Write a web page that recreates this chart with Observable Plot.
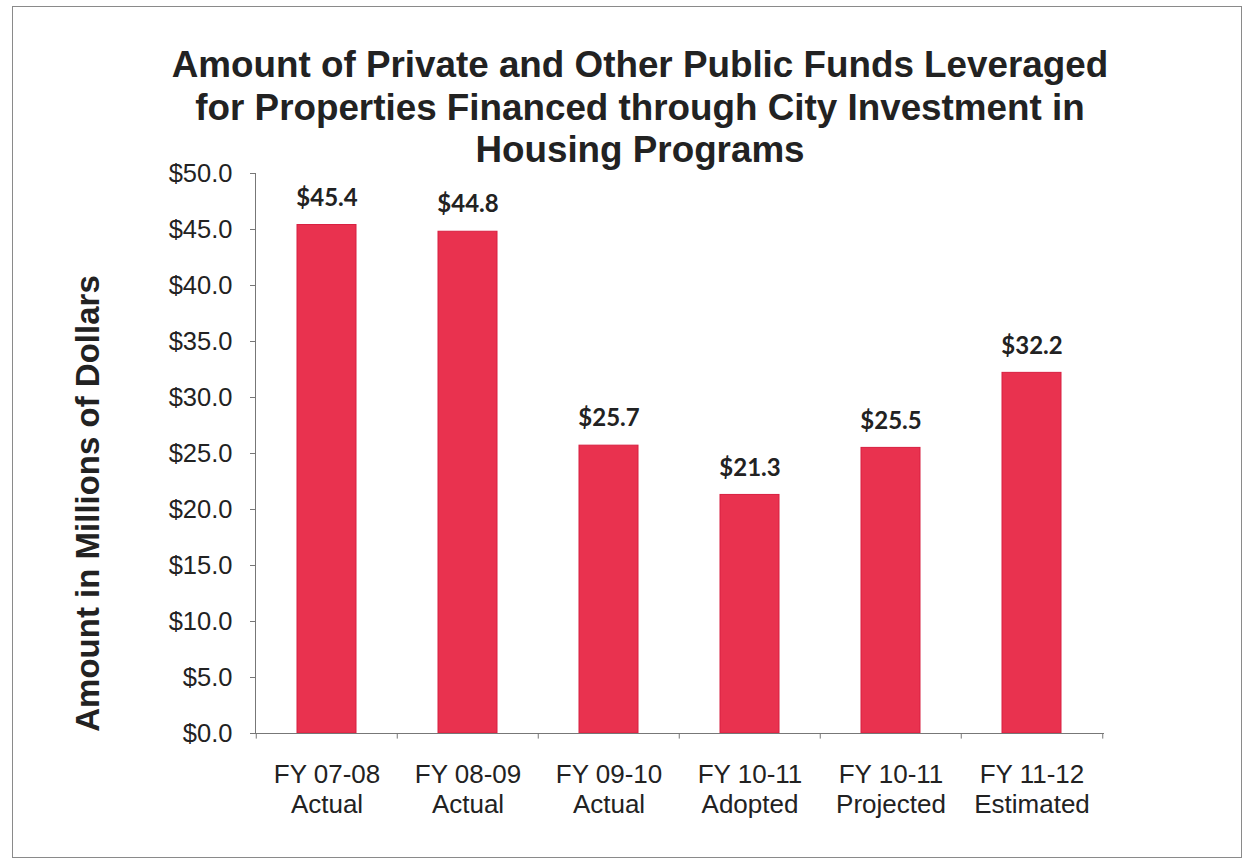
<!DOCTYPE html>
<html>
<head>
<meta charset="utf-8">
<script src="https://cdn.jsdelivr.net/npm/d3@7"></script>
<script src="https://cdn.jsdelivr.net/npm/@observablehq/plot@0.6"></script>
<style>
  html, body { margin: 0; padding: 0; background: #fff; }
  #wrap { position: relative; width: 1254px; height: 861px; overflow: hidden; }
  #border { position: absolute; left: 12px; top: 6px; width: 1230px; height: 852px; border: 1px solid #8a8a8a; box-sizing: border-box; }
  #title { position: absolute; left: 0; width: 1280px; top: 44px; text-align: center;
    font-family: "Liberation Sans", Arial, sans-serif; font-weight: bold; font-size: 36.8px; line-height: 42.5px; color: #222; }
  #chart { position: absolute; left: 0; top: 0; }
</style>
</head>
<body>
<div id="wrap">
  <div id="chart"></div>
  <div id="border"></div>
  <div id="title">Amount of Private and Other Public Funds Leveraged<br>for Properties Financed through City Investment in<br>Housing Programs</div>
</div>
<script>
const categories = ["FY 07-08\nActual", "FY 08-09\nActual", "FY 09-10\nActual", "FY 10-11\nAdopted", "FY 10-11\nProjected", "FY 11-12\nEstimated"];
const values = [45.4, 44.8, 25.7, 21.3, 25.5, 32.2];
const yTicks = [0, 5, 10, 15, 20, 25, 30, 35, 40, 45, 50];
const yLabel = "Amount in Millions of Dollars";

const data = categories.map((c, i) => ({cat: c, value: values[i]}));
const fmt = v => "$" + v.toFixed(1);

const W = 1254, H = 861, mL = 255, mR = 150, mT = 173, mB = 128;
const step = (W - mL - mR) / categories.length;

const chart = Plot.plot({
  width: W, height: H,
  marginLeft: mL, marginRight: mR, marginTop: mT, marginBottom: mB,
  style: {fontFamily: "'Liberation Sans', Arial, sans-serif", color: "#222", background: "transparent"},
  x: {domain: categories, paddingInner: 0.58, paddingOuter: 0.29, axis: null},
  y: {domain: [0, 50], ticks: yTicks, tickFormat: fmt, label: null},
  marks: [
    Plot.barY(data, {x: "cat", y: "value", fill: "#e9324f", stroke: "#d81f40", strokeWidth: 1}),
    Plot.axisY({ticks: yTicks, tickFormat: fmt, tickSize: 5, tickPadding: 18, fontSize: 25.5, stroke: "#777", label: null, fill: "#222"}),
    Plot.frame({anchor: "left", stroke: "#777"}),
    Plot.ruleY([0], {stroke: "#777"}),
    Plot.ruleX(categories, {x: d => d, y1: 0, y2: -0.5, dx: -step / 2, stroke: "#777"}),
    Plot.ruleX([categories[categories.length - 1]], {x: d => d, y1: 0, y2: -0.5, dx: step / 2, stroke: "#777"}),
    Plot.text(data, {x: "cat", y: "value", text: d => fmt(d.value), dy: -27, fontSize: 24, fontWeight: "bold",
      fontFamily: "Lato, 'Open Sans', sans-serif", fill: "#222"}),
    Plot.text(data, {x: "cat", y: 0, text: "cat", dy: 28, lineAnchor: "top", lineHeight: 1.15, fontSize: 26, fill: "#222"}),
    Plot.text([yLabel], {frameAnchor: "left", textAnchor: "middle", rotate: -90, dx: -167, dy: 50, fontSize: 33, fontWeight: "bold", fill: "#222"})
  ]
});
document.getElementById("chart").appendChild(chart);
</script>
</body>
</html>
